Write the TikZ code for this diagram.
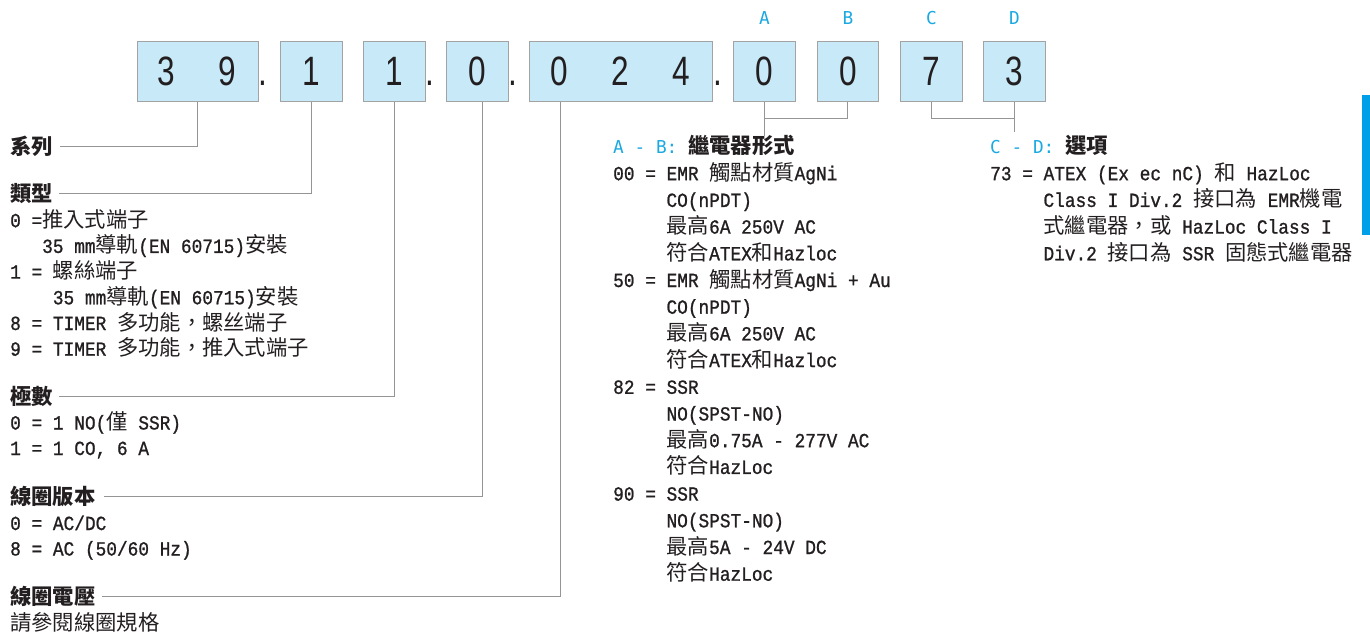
\documentclass[tikz,border=0pt]{standalone}
\usepackage{fontspec}
\setmainfont{Liberation Mono}[FakeStretch=0.89,FakeBold=1]
\newfontfamily\cjkfont{Noto Sans CJK TC}
\newfontfamily\digfont[FakeStretch=0.77]{Liberation Sans}
\newfontfamily\labfont{DejaVu Sans Mono}
\definecolor{boxfill}{HTML}{C7E9F8}
\definecolor{boxline}{HTML}{A3A3A3}
\definecolor{conncol}{HTML}{959595}
\definecolor{lblue}{HTML}{1BA9E1}
\definecolor{barblue}{HTML}{00A0E9}
\definecolor{txtc}{HTML}{231F20}
\newcommand\cj[1]{{\cjkfont\fontsize{21.33pt}{26.7pt}\selectfont #1}}
\newcommand\cjb[1]{{\cjkfont\bfseries\fontsize{21.33pt}{26.7pt}\selectfont #1}}
\newcommand\txtline[4]{\node[txt] (#1) at (#2,#3) {#4};}
\begin{document}
\begin{tikzpicture}[x=1pt,y=-1pt,
  cell/.style={draw=boxline, line width=1.4pt, fill=boxfill, minimum height=60pt, inner sep=0pt, anchor=north west},
  dig/.style={font=\digfont\fontsize{41pt}{41pt}\selectfont, text=txtc, inner sep=0pt},
  txt/.style={anchor=base west, inner sep=0pt, text=txtc, font=\fontsize{20pt}{26.7pt}\selectfont},
  connl/.style={draw=conncol, line width=1pt},
  lab/.style={font=\labfont\fontsize{17.78pt}{20pt}\selectfont, text=lblue, inner sep=0pt}
]
\useasboundingbox (0,0) rectangle (1370,635);

% boxes
\node[cell, minimum width=121.5pt] (b39) at (136.5,40.7) {};
\node[cell, minimum width=61.5pt] (b1) at (280,40.7) {};
\node[cell, minimum width=61.5pt] (b2) at (363,40.7) {};
\node[cell, minimum width=61.5pt] (b3) at (446,40.7) {};
\node[cell, minimum width=183pt] (b024) at (529,40.7) {};
\node[cell, minimum width=61.5pt] (bA) at (733,40.7) {};
\node[cell, minimum width=61.5pt] (bB) at (816.5,40.7) {};
\node[cell, minimum width=61.5pt] (bC) at (900,40.7) {};
\node[cell, minimum width=61.5pt] (bD) at (983,40.7) {};

% digits
\node[dig] (g1) at (166.5,71) {3};
\node[dig] (g2) at (227.5,71) {9};
\node[dig] (g3) at (b1.center) {1};
\node[dig] (g4) at (b2.center) {1};
\node[dig] (g5) at (b3.center) {0};
\node[dig] (g6) at (559.5,71) {0};
\node[dig] (g7) at (620.5,71) {2};
\node[dig] (g8) at (681.5,71) {4};
\node[dig] (g9) at (bA.center) {0};
\node[dig] (g10) at (bB.center) {0};
\node[dig] (g11) at (bC.center) {7};
\node[dig] (g12) at (bD.center) {3};

% dots
\node[dig, anchor=base] (d1) at (263,85.5) {.};
\node[dig, anchor=base] (d2) at (429.5,85.5) {.};
\node[dig, anchor=base] (d3) at (512.5,85.5) {.};
\node[dig, anchor=base] (d4) at (717.5,85.5) {.};

% top labels
\node[lab] (la) at (bA.center |- 0,18.5) {A};
\node[lab] (lb) at (bB.center |- 0,18.5) {B};
\node[lab] (lc) at (bC.center |- 0,18.5) {C};
\node[lab] (ld) at (bD.center |- 0,18.5) {D};

% left column
\txtline{h1}{10}{154.5}{\cjb{系列}}
\txtline{h2}{10}{201.5}{\cjb{類型}}
\txtline{t1}{10}{227.2}{0 =\cj{推入式端子}}
\txtline{t2}{42}{252.9}{35 mm\cj{導軌}(EN 60715)\cj{安裝}}
\txtline{t3}{10}{278.6}{1 = \cj{螺絲端子}}
\txtline{t4}{52.7}{304.3}{35 mm\cj{導軌}(EN 60715)\cj{安裝}}
\txtline{t5}{10}{330}{8 = TIMER \cj{多功能，螺丝端子}}
\txtline{t6}{10}{355.7}{9 = TIMER \cj{多功能，推入式端子}}
\txtline{h3}{10}{404.5}{\cjb{極數}}
\txtline{t7}{10}{429.5}{0 = 1 NO(\cj{僅} SSR)}
\txtline{t8}{10}{455}{1 = 1 CO, 6 A}
\txtline{h4}{10}{504.5}{\cjb{線圈版本}}
\txtline{t9}{10}{530}{0 = AC/DC}
\txtline{t10}{10}{555.5}{8 = AC (50/60 Hz)}
\txtline{h5}{10}{604.5}{\cjb{線圈電壓}}
\txtline{t11}{10}{630}{\cj{請參閱線圈規格}}

% middle column
\txtline{mh}{613}{153.5}{\textcolor{lblue}{\labfont\fontsize{17.78pt}{26.7pt}\selectfont A - B: }\cjb{繼電器形式}}
\txtline{m1}{613}{180.2}{00 = EMR \cj{觸點材質}AgNi}
\txtline{m2}{666.3}{206.9}{CO(nPDT)}
\txtline{m3}{666.3}{233.6}{\cj{最高}6A 250V AC}
\txtline{m4}{666.3}{260.3}{\cj{符合}ATEX\cj{和}Hazloc}
\txtline{m5}{613}{287}{50 = EMR \cj{觸點材質}AgNi + Au}
\txtline{m6}{666.3}{313.7}{CO(nPDT)}
\txtline{m7}{666.3}{340.4}{\cj{最高}6A 250V AC}
\txtline{m8}{666.3}{367.1}{\cj{符合}ATEX\cj{和}Hazloc}
\txtline{m9}{613}{393.8}{82 = SSR}
\txtline{m10}{666.3}{420.5}{NO(SPST-NO)}
\txtline{m11}{666.3}{447.2}{\cj{最高}0.75A - 277V AC}
\txtline{m12}{666.3}{473.9}{\cj{符合}HazLoc}
\txtline{m13}{613}{500.6}{90 = SSR}
\txtline{m14}{666.3}{527.3}{NO(SPST-NO)}
\txtline{m15}{666.3}{554}{\cj{最高}5A - 24V DC}
\txtline{m16}{666.3}{580.7}{\cj{符合}HazLoc}

% right column
\txtline{rh}{990}{153.5}{\textcolor{lblue}{\labfont\fontsize{17.78pt}{26.7pt}\selectfont C - D: }\cjb{選項}}
\txtline{r1}{990}{180.2}{73 = ATEX (Ex ec nC) \cj{和} HazLoc}
\txtline{r2}{1043.3}{206.9}{Class I Div.2 \cj{接口為} EMR\cj{機電}}
\txtline{r3}{1043.3}{233.6}{\cj{式繼電器，或} HazLoc Class I}
\txtline{r4}{1043.3}{260.3}{Div.2 \cj{接口為} SSR \cj{固態式繼電器}}

% connectors
\draw[connl] (b39.south) |- ([xshift=7pt]h1.east);
\draw[connl] (b1.south) |- ([xshift=6pt]h2.east);
\draw[connl] (b2.south) |- ([xshift=6pt]h3.east);
\draw[connl] ([xshift=5pt]b3.south) |- ([xshift=8pt]h4.east);
\draw[connl] ([xshift=-61pt]b024.south) |- ([xshift=6pt]h5.east);
\coordinate (abend) at (bA.south |- 0,136);
\draw[connl] (bA.south) -- (abend);
\draw[connl] (bB.south) |- (bA.south |- 0,118);
\coordinate (cdend) at (bD.south |- 0,132);
\draw[connl] (bD.south) -- (cdend);
\draw[connl] (bC.south) |- (bD.south |- 0,118);

% side bar
\fill[barblue] (1362,95) rectangle (1370,235);
\end{tikzpicture}
\end{document}
